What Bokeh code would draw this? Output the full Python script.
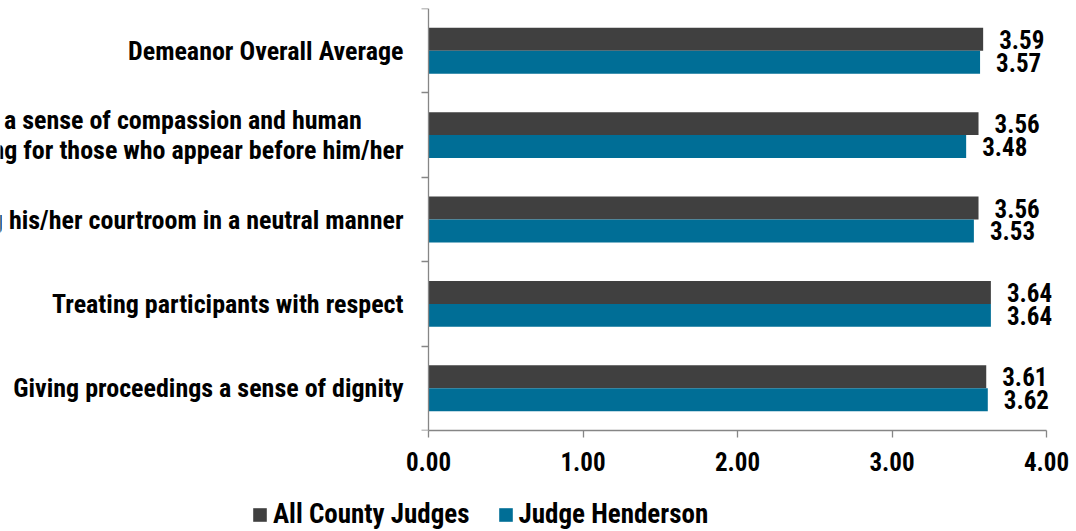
from bokeh.plotting import figure
from bokeh.layouts import column
from bokeh.models import (ColumnDataSource, LabelSet, Label, Legend, LegendItem,
                          FixedTicker, CustomJSTickFormatter, LinearAxis, Range1d)
from bokeh.core.properties import value
from bokeh.embed import file_html
from bokeh.resources import INLINE

# ---- data (top to bottom) ----
categories = [
    "Demeanor Overall Average",
    "Showing a sense of compassion and human\nunderstanding for those who appear before him/her",
    "Conducting his/her courtroom in a neutral manner",
    "Treating participants with respect",
    "Giving proceedings a sense of dignity",
]
all_county = [3.59, 3.56, 3.56, 3.64, 3.61]
henderson = [3.57, 3.48, 3.53, 3.64, 3.62]
series_names = ["All County Judges", "Judge Henderson"]
x_ticks = [0, 1, 2, 3, 4]

FONT_STR = "'Liberation Sans Narrow', 'Arial Narrow', 'Roboto Condensed', 'Liberation Sans'"
FONT = value(FONT_STR)
DARK = "#404040"
TEAL = "#006E96"
AXIS = "#868686"

W = 1076
FRAME_RIGHT = 1046   # pixel where the axis ends (value 4)
ZERO_PX = 428        # pixel of value 0
XMAX = 4
n = len(categories)
pos = [n - 0.5 - i for i in range(n)]
off = 0.136
bar_h = 0.272

px_per_unit = (FRAME_RIGHT - ZERO_PX) / XMAX
x_start = -ZERO_PX / px_per_unit
x_end = XMAX + (W - FRAME_RIGHT) / px_per_unit

p = figure(width=W, height=490, x_range=Range1d(x_start, x_end), y_range=Range1d(0, n),
           output_backend="svg", toolbar_location=None, y_axis_location=None,
           min_border_left=0, min_border_right=0, min_border_top=8,
           min_border_bottom=60)
p.outline_line_color = None
p.xgrid.visible = False
p.ygrid.visible = False

src_a = ColumnDataSource(dict(y=[v + off for v in pos], x=all_county,
                              t=["%.2f" % v for v in all_county]))
src_h = ColumnDataSource(dict(y=[v - off for v in pos], x=henderson,
                              t=["%.2f" % v for v in henderson]))

p.hbar(y="y", right="x", left=0, height=bar_h, source=src_a,
       fill_color=DARK, line_color=None)
p.hbar(y="y", right="x", left=0, height=bar_h, source=src_h,
       fill_color=TEAL, line_color=None)

for src in (src_a, src_h):
    p.add_layout(LabelSet(x="x", y="y", text="t", source=src, x_offset=16,
                          text_baseline="middle", text_align="left",
                          text_font=FONT, text_font_size="25px",
                          text_font_style="bold", text_color="#000000"))

# category labels (left of the value axis, cut at page edge)
for c, yv in zip(categories, pos):
    p.add_layout(Label(x=0, y=yv, text=c, x_offset=-25,
                       text_align="center", anchor="center_right",
                       text_font=FONT_STR, text_font_size="26px",
                       text_font_style="bold", text_color="#000000",
                       text_line_height=1.0))

# x axis
xa = p.xaxis[0]
xa.bounds = (0, XMAX)
xa.ticker = FixedTicker(ticks=x_ticks)
xa.formatter = CustomJSTickFormatter(code="return tick.toFixed(2);")
xa.axis_line_color = AXIS
xa.axis_line_width = 1.3
xa.major_tick_line_color = AXIS
xa.major_tick_line_width = 1.3
xa.major_tick_in = 0
xa.major_tick_out = 7
xa.minor_tick_line_color = None
xa.major_label_standoff = 14
xa.major_label_text_font = FONT_STR
xa.major_label_text_font_size = "25px"
xa.major_label_text_font_style = "bold"
xa.major_label_text_color = "#000000"

# y axis at x = 0: line and category-boundary ticks only
ya = LinearAxis(fixed_location=0)
ya.ticker = FixedTicker(ticks=list(range(n + 1)))
ya.formatter = CustomJSTickFormatter(code="return '';")
ya.axis_line_color = AXIS
ya.axis_line_width = 1.3
ya.major_tick_line_color = AXIS
ya.major_tick_line_width = 1.3
ya.major_tick_in = 7
ya.major_tick_out = 0
ya.minor_tick_line_color = None
ya.major_label_standoff = 0
p.add_layout(ya, "right")

# legend strip (hidden copies of the bar renderers, only their legend swatches show)
lg = figure(width=W, height=41, x_range=(0, 1), y_range=(0, 1),
            output_backend="svg", toolbar_location=None,
            x_axis_location=None, y_axis_location=None,
            min_border_left=0, min_border_right=0, min_border_top=0, min_border_bottom=0)
lg.outline_line_color = None
lg.xgrid.visible = False
lg.ygrid.visible = False
da = lg.hbar(y="y", right="x", left=0, height=bar_h, source=src_a,
             fill_color=DARK, line_color=None, visible=False)
dh = lg.hbar(y="y", right="x", left=0, height=bar_h, source=src_h,
             fill_color=TEAL, line_color=None, visible=False)
legend = Legend(items=[LegendItem(label=series_names[0], renderers=[da]),
                       LegendItem(label=series_names[1], renderers=[dh])],
                orientation="horizontal", location=(251, 1),
                glyph_width=17, glyph_height=17, label_standoff=5, spacing=27,
                padding=0, margin=0, border_line_color=None,
                background_fill_alpha=0, inactive_fill_alpha=0,
                label_text_font=FONT_STR, label_text_font_size="27px",
                label_text_font_style="bold", label_text_color="#000000")
lg.add_layout(legend, "center")

page = column(p, lg, spacing=0)
open("out.html", "w").write(file_html(page, INLINE))
